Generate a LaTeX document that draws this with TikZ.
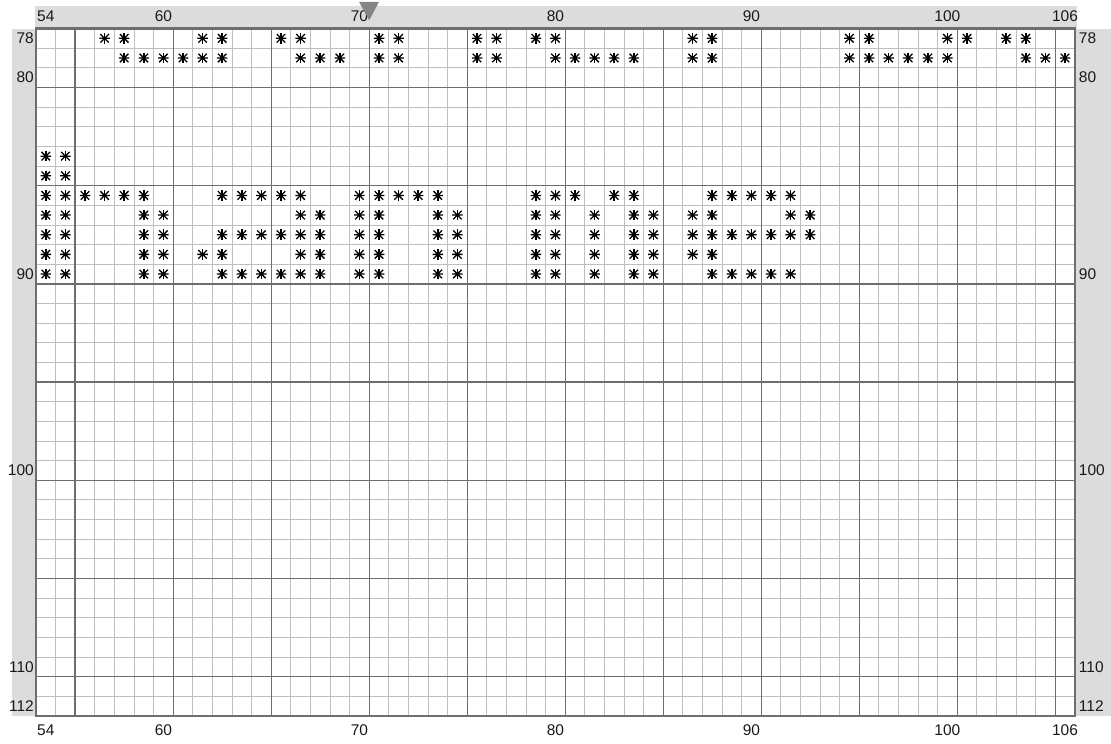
\documentclass[tikz,border=0pt]{standalone}
\usepackage{fontspec}
\setmainfont{Liberation Sans}
\usetikzlibrary{positioning}
\definecolor{strip}{HTML}{DCDCDC}
\definecolor{thinl}{HTML}{BEBEBE}
\definecolor{fivel}{HTML}{6E6E6E}
\definecolor{framel}{HTML}{6E6E6E}
\definecolor{marker}{HTML}{858585}
\tikzset{el/.style={line cap=rect, line join=miter}}

\begin{document}
\begin{tikzpicture}[el, x=19.6pt, y=-19.64pt,
     num/.style={font=\fontsize{15.5}{17}\selectfont, text=black!90, inner sep=0pt},
     stitch/.style={minimum size=10.5pt, inner sep=0pt,
        path picture={
          \draw[line width=1.7pt, line cap=butt, black]
            (path picture bounding box.north) -- (path picture bounding box.south);
          \draw[line width=1.3pt, line cap=butt, black]
            (path picture bounding box.west) -- (path picture bounding box.east)
            ([shift={(1pt,-1pt)}]path picture bounding box.north west) -- ([shift={(-1pt,1pt)}]path picture bounding box.south east)
            ([shift={(-1pt,-1pt)}]path picture bounding box.north east) -- ([shift={(1pt,1pt)}]path picture bounding box.south west);}},
     gridline/.style={thinl, line width=0.8pt},
     fiveline/.style={fivel, line width=1.4pt},
     frame/.style={framel, line width=2.4pt}]
  \useasboundingbox (-1.8367,-1.4511) rectangle (54.847,36.380);
  % gray strips round the chart
  \fill[strip] (-0.05,-1.146) rectangle (53.11,0);
  \fill[strip] (-1.224,0) rectangle (0,35);
  \fill[strip] (53,0) rectangle (54.85,35);
  \fill[white] (0,0) rectangle (53,35);
  % grid
  \foreach \i in {1,...,52} \draw[gridline] (\i,0) -- (\i,35);
  \foreach \j in {1,...,34} \draw[gridline] (0,\j) -- (53,\j);
  \foreach \i in {2,7,12,17,22,27,32,37,42,47,52} \draw[fiveline] (\i,0) -- (\i,35);
  \foreach \j in {3,8,13,18,23,28,33} \draw[fiveline] (0,\j) -- (53,\j);
  \draw[frame] (0,0) rectangle (53,35);
  % column numbers
  \foreach \c in {54,60,70,80,90,100,106} {
    \node[num] (top\c) at (\c-53.5,-0.62) {\c};
    \node[num] (bot\c) at (\c-53.5,35.72) {\c};
  }
  % row numbers
  \foreach \r in {78,80,90,100,110,112} {
    \node[num, anchor=east] (left\r) at (-0.1,\r-77.5) {\r};
    \node[num, anchor=west] (right\r) at (53.2,\r-77.5) {\r};
  }
  % marker
  \fill[marker] (16.48,-1.36) -- (17.5,-1.36) -- (17.0,-0.42) -- cycle;
  % stitches
  \foreach \r/\cs in {
      78/{57,58,62,63,66,67,71,72,76,77,79,80,87,88,95,96,100,101,103,104},
      79/{58,59,60,61,62,63,67,68,69,71,72,76,77,80,81,82,83,84,87,88,95,96,97,98,99,100,104,105,106},
      84/{54,55},
      85/{54,55},
      86/{54,55,56,57,58,59,63,64,65,66,67,70,71,72,73,74,79,80,81,83,84,88,89,90,91,92},
      87/{54,55,59,60,67,68,70,71,74,75,79,80,82,84,85,87,88,92,93},
      88/{54,55,59,60,63,64,65,66,67,68,70,71,74,75,79,80,82,84,85,87,88,89,90,91,92,93},
      89/{54,55,59,60,62,63,67,68,70,71,74,75,79,80,82,84,85,87,88},
      90/{54,55,59,60,63,64,65,66,67,68,70,71,74,75,79,80,82,84,85,88,89,90,91,92}}
    \foreach \c in \cs
      \node[stitch] (s\r-\c) at (\c-53.5,\r-77.5) {};
\end{tikzpicture}
\end{document}
